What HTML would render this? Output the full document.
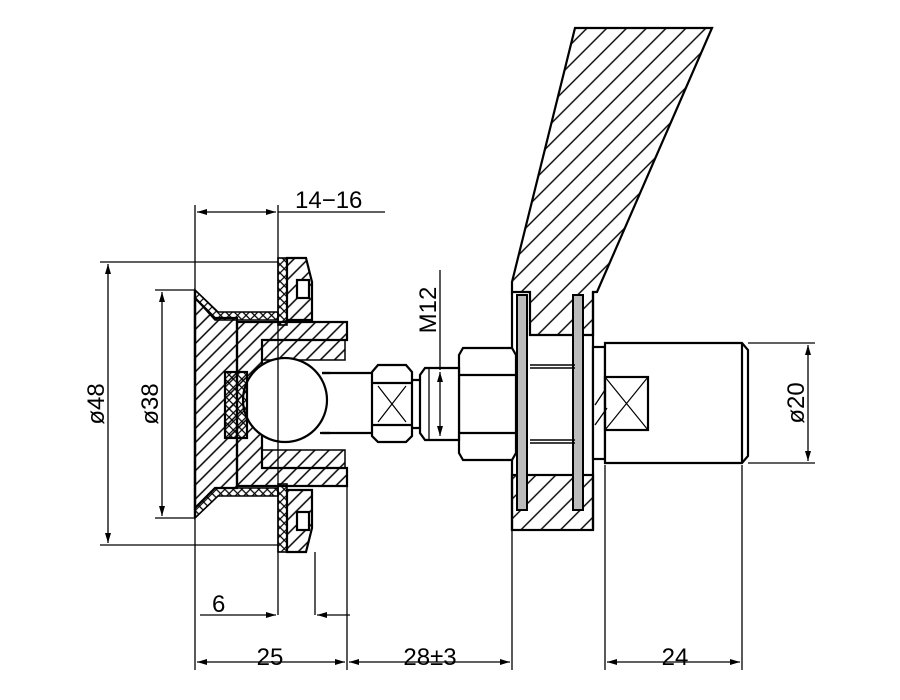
<!DOCTYPE html>
<html><head><style>body{margin:0;background:#fff}svg{display:block}text{font-family:"Liberation Sans",sans-serif;font-size:24px;fill:#000}</style></head>
<body>
<svg width="900" height="700" viewBox="0 0 900 700" xmlns="http://www.w3.org/2000/svg">
<defs>
<pattern id="h" width="14" height="14" patternUnits="userSpaceOnUse" patternTransform="rotate(45)"><line x1="1" y1="0" x2="1" y2="14" stroke="#000" stroke-width="1.4"/></pattern>
<pattern id="h2" width="10" height="10" patternUnits="userSpaceOnUse" patternTransform="rotate(45)"><line x1="1" y1="0" x2="1" y2="10" stroke="#000" stroke-width="1.5"/></pattern>
<pattern id="x" width="6" height="6" patternUnits="userSpaceOnUse" patternTransform="rotate(45)"><path d="M1 0V6M0 1H6" stroke="#000" stroke-width="1.2"/></pattern>
<marker id="a" viewBox="0 0 10 10" refX="10" refY="5" markerWidth="10" markerHeight="10" orient="auto-start-reverse" markerUnits="userSpaceOnUse"><path d="M0 2L10 5L0 8z" fill="#000"/></marker>
</defs>
<g stroke="#000" stroke-width="2.2" fill="none">
<path d="M512 282L575 28H712L597 292H593V335H530V292H512Z" fill="url(#h)"/>
<rect x="512" y="475" width="81" height="55" fill="url(#h)"/>
<path d="M512 292V530M593 292V530"/>
<rect x="517" y="295" width="10" height="215" fill="#bbb" stroke-width="2"/>
<rect x="573" y="295" width="10" height="215" fill="#bbb" stroke-width="2"/>
<path d="M530 365H575M530 368H575M530 440H575M530 443H575" stroke-width="1.5"/>
<rect x="593" y="347" width="12" height="112" fill="#fff"/>
<path d="M605 343H742L748 350V456L742 463H605Z" fill="#fff"/>
<path d="M742 343V463"/>
<rect x="605" y="377" width="43" height="53"/>
<path d="M605 377L648 430M648 377L605 430" stroke-width="1.2"/>
<path d="M595 405L605 390M595 425L607 408" stroke-width="1.3"/>
<path d="M463 348H512L516 355V453L512 460H463L459 453V355Z" fill="#fff"/>
<path d="M459 375H516M459 433H516"/>
<path d="M425 368H459V440H425L420 433V375Z" fill="#fff"/>
<path d="M429 368V440" stroke-width="1.3"/>
<path d="M322 373H372M320 433H372"/>
<path d="M378 365H406L412 372V436L406 442H378L372 436V372Z" fill="#fff"/>
<path d="M372 383H412M372 425H412"/>
<path d="M378 386L406 422M406 386L378 422" stroke-width="1.2"/>
<path d="M412 380H420M412 428H420"/>
<path d="M195 298L215 318H237V488H215L195 508Z" fill="url(#h2)"/>
<path d="M195 290L218 312H278V320H215L195 298Z" fill="url(#x)" stroke-width="1.6"/>
<path d="M195 518L218 496H278V488H215L195 508Z" fill="url(#x)" stroke-width="1.6"/>
<path d="M195 290V518" stroke-width="2.4"/>
<rect x="278" y="258" width="9" height="67" fill="url(#x)" stroke-width="1.6"/>
<rect x="278" y="484" width="9" height="68" fill="url(#x)" stroke-width="1.6"/>
<path d="M287 258H306L312 282V320H287Z" fill="url(#h2)"/>
<path d="M287 490H312V528L306 552H287Z" fill="url(#h2)"/>
<rect x="297" y="280" width="12" height="18" fill="#fff"/>
<rect x="297" y="512" width="12" height="18" fill="#fff"/>
<path d="M237 322H347V340H262V468H347V486H237Z" fill="url(#h2)"/>
<path d="M262 340H345V360H262ZM262 450H345V468H262Z" fill="url(#h2)" stroke-width="1.5"/>
<circle cx="285" cy="400" r="42" fill="#fff"/>
<path d="M322 373H330M322 433H330"/>
<rect x="225" y="372" width="22" height="66" fill="url(#x)"/>
</g>
<g stroke="#000" stroke-width="1.3" fill="none">
<path d="M195 205V670M278 205V615M315 552V615M347 486V670M512 530V670M605 465V670M742 465V670"/>
<path d="M278 212H385"/>
<path d="M197 212H276" marker-start="url(#a)" marker-end="url(#a)"/>
<path d="M197 662H345" marker-start="url(#a)" marker-end="url(#a)"/>
<path d="M349 662H510" marker-start="url(#a)" marker-end="url(#a)"/>
<path d="M607 662H740" marker-start="url(#a)" marker-end="url(#a)"/>
<path d="M200 615H276" marker-end="url(#a)"/>
<path d="M350 615H317" marker-end="url(#a)"/>
<path d="M100 262H278M100 545H278M155 290H195M155 518H195M748 343H815M748 463H815"/>
<path d="M108 264V543" marker-start="url(#a)" marker-end="url(#a)"/>
<path d="M162 292V516" marker-start="url(#a)" marker-end="url(#a)"/>
<path d="M808 345V461" marker-start="url(#a)" marker-end="url(#a)"/>
<path d="M440 270V370" />
<path d="M440 372V436" marker-start="url(#a)" marker-end="url(#a)"/>
</g>
<text x="295" y="208">14−16</text>
<text x="270" y="665" text-anchor="middle">25</text>
<text x="430" y="665" text-anchor="middle">28±3</text>
<text x="675" y="665" text-anchor="middle">24</text>
<text x="212" y="612">6</text>
<text transform="translate(104 404) rotate(-90)" text-anchor="middle">ø48</text>
<text transform="translate(158 404) rotate(-90)" text-anchor="middle">ø38</text>
<text transform="translate(804 403) rotate(-90)" text-anchor="middle">ø20</text>
<text transform="translate(436 310) rotate(-90)" text-anchor="middle">M12</text>
</svg>
</body></html>
